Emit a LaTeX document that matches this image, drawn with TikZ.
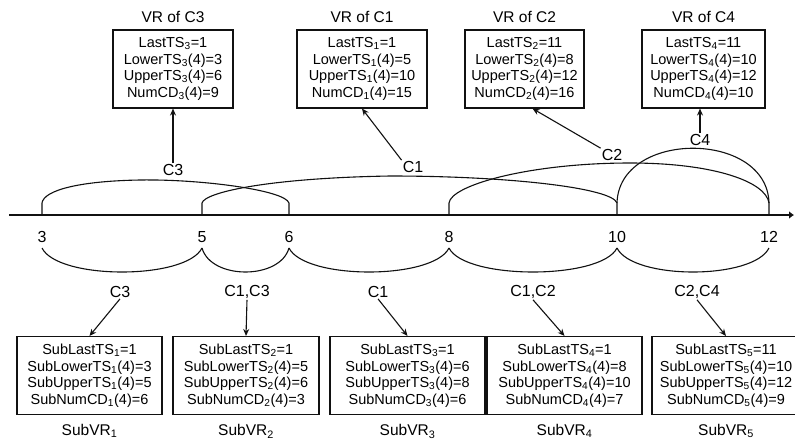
\documentclass[tikz,border=0pt]{standalone}
\usepackage{fontspec}
\setmainfont{Liberation Sans}
\usepackage{xcolor}
\definecolor{cLine}{HTML}{111111}
\usetikzlibrary{positioning,arrows.meta}
\newcommand{\tsub}[1]{\textsubscript{#1}}
\tikzset{
  vr-box/.style={draw=cLine,line width=1.1pt,minimum height=78pt,align=center,
    inner sep=2pt,font=\fontsize{14.5}{16.5}\selectfont},
  vr-title/.style={inner sep=1pt,font=\fontsize{15.5}{18}\selectfont},
  cell-label/.style={inner sep=1pt,font=\fontsize{16}{18}\selectfont},
  tick-label/.style={inner sep=1pt,font=\fontsize{16}{18}\selectfont},
  % 1pt per pixel, y grows downwards
  arrow/.style={-{Stealth[length=7pt,width=6pt]},line width=1.1pt,draw=cLine},
  axis/.style={-{Latex[length=5pt,width=8pt]},line width=1.2pt,draw=cLine},
  span/.style={line width=1.1pt,draw=cLine},
}

\begin{document}
\begin{tikzpicture}[x=1pt,y=-1pt]
  \useasboundingbox (0,0) rectangle (795,445);

  % per-cell value ranges
  \node[vr-box,minimum width=120pt] (vr3) at (173,69)
    {LastTS\tsub{3}=1\\LowerTS\tsub{3}(4)=3\\UpperTS\tsub{3}(4)=6\\NumCD\tsub{3}(4)=9};
  \node[vr-box,minimum width=130pt] (vr1) at (362,69)
    {LastTS\tsub{1}=1\\LowerTS\tsub{1}(4)=5\\UpperTS\tsub{1}(4)=10\\NumCD\tsub{1}(4)=15};
  \node[vr-box,minimum width=119pt] (vr2) at (524.5,69)
    {LastTS\tsub{2}=11\\LowerTS\tsub{2}(4)=8\\UpperTS\tsub{2}(4)=12\\NumCD\tsub{2}(4)=16};
  \node[vr-box,minimum width=123pt] (vr4) at (703.5,69)
    {LastTS\tsub{4}=11\\LowerTS\tsub{4}(4)=10\\UpperTS\tsub{4}(4)=12\\NumCD\tsub{4}(4)=10};
  \node[vr-title,above=6pt of vr3] (ttl3) {VR of C3};
  \node[vr-title,above=6pt of vr1] (ttl1) {VR of C1};
  \node[vr-title,above=6pt of vr2] (ttl2) {VR of C2};
  \node[vr-title,above=6pt of vr4] (ttl4) {VR of C4};

  % time axis with its ticks
  \coordinate (axis-start) at (9,215);
  \coordinate (axis-end)   at (794,215);
  \draw[axis] (axis-start) -- (axis-end);
  \foreach \n/\x in {3/42,5/202,6/289,8/449,10/617,12/769}{
    \coordinate (t\n) at (\x,215);
    \coordinate (u\n) at (\x,203);
    \coordinate (b\n) at (\x,248);
    \node[tick-label] (n\n) at (\x,237) {\n};
  }

  % cells above the axis
  \draw[span] (t3) -- (u3) .. controls (44,190) and (80,181) .. (140,180)
    .. controls (200,179) and (285,190) .. (u6) -- (t6);
  \draw[span] (t5) -- (u5) .. controls (205,192) and (270,178) .. (390,176)
    .. controls (510,176) and (612,188) .. (u10) -- (t10);
  \draw[span] (t8) -- (u8) .. controls (451,185) and (530,163) .. (630,163)
    .. controls (715,163) and (766,182) .. (u12) -- (t12);
  \draw[span] (u10) .. controls (619,130) and (767,130) .. (u12);

  \node[cell-label] (lbl-c3) at (173,170) {C3};
  \node[cell-label] (lbl-c1) at (413,167) {C1};
  \node[cell-label] (lbl-c2) at (612,155) {C2};
  \node[cell-label] (lbl-c4) at (700,140) {C4};
  \draw[arrow] (lbl-c3.north) -- (vr3.south);
  \draw[arrow] (lbl-c1.north west) -- (vr1.south);
  \draw[arrow] (lbl-c2.north west) -- ([xshift=8pt]vr2.south);
  \draw[arrow] (lbl-c4.north) -- (lbl-c4.north |- vr4.south);

  % sub-intervals below the axis
  \draw[span] (b3)  .. controls +(16,32) and +(-16,32) .. (b5);
  \draw[span] (b5)  .. controls +(9,32)  and +(-9,32)  .. (b6);
  \draw[span] (b6)  .. controls +(16,32) and +(-16,32) .. (b8);
  \draw[span] (b8)  .. controls +(16,32) and +(-16,32) .. (b10);
  \draw[span] (b10) .. controls +(16,32) and +(-16,32) .. (b12);

  \node[cell-label] (sub-l1) at (120,292) {C3};
  \node[cell-label] (sub-l2) at (247,292) {C1,C3};
  \node[cell-label] (sub-l3) at (378,292) {C1};
  \node[cell-label] (sub-l4) at (533,292) {C1,C2};
  \node[cell-label] (sub-l5) at (697,292) {C2,C4};

  \node[vr-box,minimum width=145pt] (sv1) at (89.5,375.5)
    {SubLastTS\tsub{1}=1\\SubLowerTS\tsub{1}(4)=3\\SubUpperTS\tsub{1}(4)=5\\SubNumCD\tsub{1}(4)=6};
  \node[vr-box,minimum width=146pt] (sv2) at (246,375.5)
    {SubLastTS\tsub{2}=1\\SubLowerTS\tsub{2}(4)=5\\SubUpperTS\tsub{2}(4)=6\\SubNumCD\tsub{2}(4)=3};
  \node[vr-box,minimum width=155pt] (sv3) at (407.5,375.5)
    {SubLastTS\tsub{3}=1\\SubLowerTS\tsub{3}(4)=6\\SubUpperTS\tsub{3}(4)=8\\SubNumCD\tsub{3}(4)=6};
  \node[vr-box,minimum width=155pt] (sv4) at (564.5,375.5)
    {SubLastTS\tsub{4}=1\\SubLowerTS\tsub{4}(4)=8\\SubUpperTS\tsub{4}(4)=10\\SubNumCD\tsub{4}(4)=7};
  \node[vr-box,minimum width=148pt] (sv5) at (726,375.5)
    {SubLastTS\tsub{5}=11\\SubLowerTS\tsub{5}(4)=10\\SubUpperTS\tsub{5}(4)=12\\SubNumCD\tsub{5}(4)=9};
  \foreach \i in {1,...,5}{
    \draw[arrow] (sub-l\i.south) -- (sv\i.north);
    \node[vr-title,below=8pt of sv\i] (svt\i) {SubVR\tsub{\i}};
  }
\end{tikzpicture}
\end{document}
